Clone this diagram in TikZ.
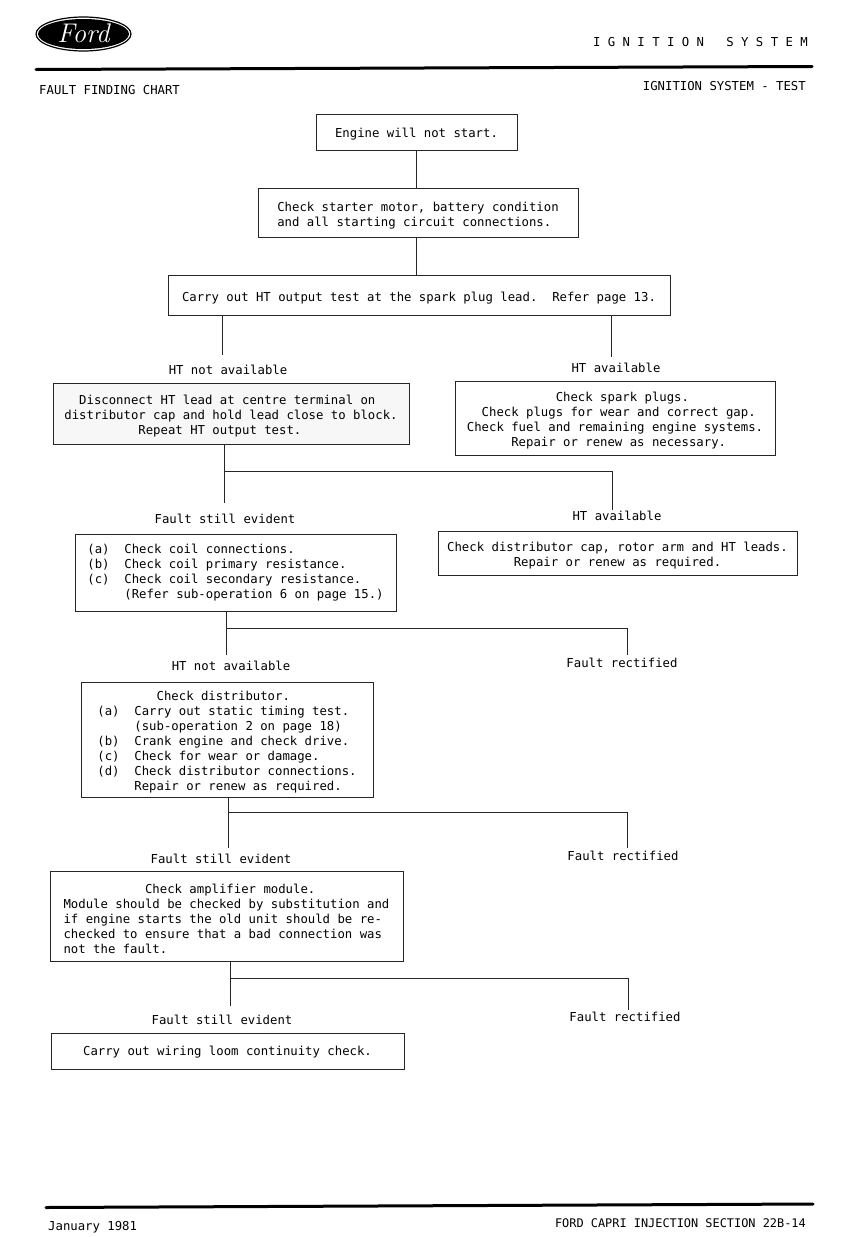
\documentclass[tikz,border=0pt]{standalone}
\usepackage{fontspec}
\setmonofont{DejaVu Sans Mono}
\usetikzlibrary{positioning}
\newcommand{\chartfont}{\ttfamily\fontsize{12.3}{15}\selectfont}
\newcommand{\linedrop}[1]{\rule{0pt}{#1}}
\tikzset{
  chartbox/.style={draw=black!85, line width=1pt, inner sep=0pt, align=left, font=\chartfont},
  chartlab/.style={inner sep=0pt, font=\chartfont},
  chartline/.style={draw=black!85, line width=1pt},
  pagerule/.style={line width=3pt, line cap=round}
}

\begin{document}
\begin{tikzpicture}[x=1pt,y=-1pt]
  \useasboundingbox (0,0) rectangle (850,1237);

  % page head
  \draw[line width=1.2pt] (83.5,34) ellipse [x radius=47.5, y radius=17];
  \fill (83.5,34) ellipse [x radius=45.5, y radius=15];
  \node[white, inner sep=0pt, font=\rmfamily\itshape\fontsize{27}{27}\selectfont] (fordname) at (83.5,33) {Ford};
  \node[chartlab, anchor=east] (pagetitle) at (808,42) {I G N I T I O N \ \ S Y S T E M};
  \draw[pagerule] (36,69.5) -- (812,66.5);
  \node[chartlab, anchor=west] (chartname) at (39,90.5) {FAULT FINDING CHART};
  \node[chartlab, anchor=east] (sectionname) at (806,86.5) {IGNITION SYSTEM - TEST};

  % boxes
  \node[chartbox, minimum width=201pt, minimum height=36pt] (engine) at (416.5,132) {\linedrop{13.5pt}Engine will not start.};
  \node[chartbox, minimum width=320pt, minimum height=49pt] (starter) at (418,212.5)
    {\linedrop{15.5pt}Check starter motor, battery condition\\and all starting circuit connections.};
  \node[chartbox, minimum width=502pt, minimum height=40pt] (httest) at (419,295)
    {\linedrop{15.5pt}Carry out HT output test at the spark plug lead.\ \ Refer page 13.};
  \node[chartbox, fill=black!3, minimum width=356pt, minimum height=61pt] (disconnect) at (231,413.5)
    {\linedrop{15.5pt}\ \ Disconnect HT lead at centre terminal on\\distributor cap and hold lead close to block.\\\ \ \ \ \ \ \ \ \ \ Repeat HT output test.};
  \node[chartbox, minimum width=320pt, minimum height=74pt] (plugs) at (615,418)
    {\linedrop{15.5pt}\ \ \ \ \ \ \ \ \ \ \ \ Check spark plugs.\\\ \ Check plugs for wear and correct gap.\\Check fuel and remaining engine systems.\\\ \ \ \ \ \ Repair or renew as necessary.};
  \node[chartbox, minimum width=321pt, minimum height=77pt] (coil) at (235.5,572.5)
    {(a)\ \ Check coil connections.\\(b)\ \ Check coil primary resistance.\\(c)\ \ Check coil secondary resistance.\\\ \ \ \ \ (Refer sub-operation 6 on page 15.)};
  \node[chartbox, minimum width=359pt, minimum height=44pt] (capleads) at (617.5,553)
    {\linedrop{15pt}Check distributor cap, rotor arm and HT leads.\\\ \ \ \ \ \ \ \ \ Repair or renew as required.};
  \node[chartbox, minimum width=292pt, minimum height=115pt] (distributor) at (227,739.5)
    {\linedrop{15pt}\ \ \ \ \ \ \ \ Check distributor.\\(a)\ \ Carry out static timing test.\\\ \ \ \ \ (sub-operation 2 on page 18)\\(b)\ \ Crank engine and check drive.\\(c)\ \ Check for wear or damage.\\(d)\ \ Check distributor connections.\\\ \ \ \ \ Repair or renew as required.};
  \node[chartbox, minimum width=353pt, minimum height=90pt] (amplifier) at (226.5,916)
    {\linedrop{15.5pt}\ \ \ \ \ \ \ \ \ \ \ Check amplifier module.\\Module should be checked by substitution and\ \\if engine starts the old unit should be re-\\checked to ensure that a bad connection was\\not the fault.};
  \node[chartbox, minimum width=353pt, minimum height=36pt] (wiring) at (227.5,1051) {\linedrop{11.5pt}Carry out wiring loom continuity check.};

  % labels
  \foreach \nm/\px/\py/\lab in {
    labA/228/370/HT not available,
    labB/616/368/HT available,
    labC/225/519/Fault still evident,
    labD/617/516/HT available,
    labE/231/666/HT not available,
    labF/622/663/Fault rectified,
    labG/221/859/Fault still evident,
    labH/623/856/Fault rectified,
    labJ/222/1020/Fault still evident,
    labK/625/1017/Fault rectified}{
    \node[chartlab] (\nm) at (\px,\py) {\lab};
  }

  % connectors
  \draw[chartline] (engine.south) -- (engine.south |- starter.north);
  \draw[chartline] (416,0 |- starter.south) -- (416,0 |- httest.north);
  \coordinate (endA) at (222,355);
  \coordinate (endB) at (611,357);
  \draw[chartline] (endA |- httest.south) -- (endA);
  \draw[chartline] (endB |- httest.south) -- (endB);
  \foreach \from/\xl/\yl/\yb/\xr/\yr/\nm in {
    disconnect/224/471/503/612/510/C,
    coil/226/628/655/627/655/E,
    distributor/228/812/848/627/848/G,
    amplifier/230/978/1006/628/1010/J}{
    \coordinate (trunk\nm) at (\xl,\yb);
    \coordinate (side\nm) at (\xr,\yr);
    \draw[chartline] (trunk\nm |- \from.south) -- (trunk\nm);
    \draw[chartline] (\xl,\yl) -| (side\nm);
  }

  % page foot
  \draw[pagerule] (46,1207.5) -- (813,1204);
  \node[chartlab, anchor=west] (datename) at (48,1227) {January 1981};
  \node[inner sep=0pt, font=\ttfamily\fontsize{11.9}{15}\selectfont, anchor=east] (bookname) at (806,1223) {FORD CAPRI INJECTION SECTION 22B-14};
\end{tikzpicture}
\end{document}
